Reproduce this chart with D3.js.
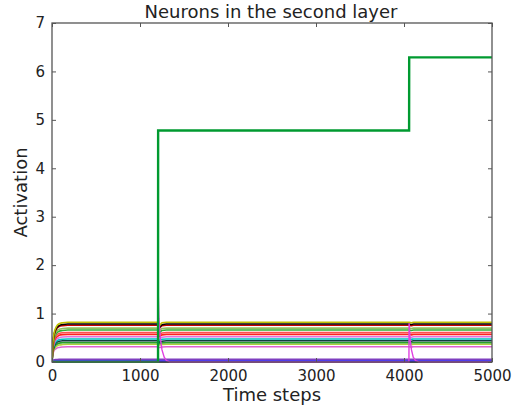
<!DOCTYPE html>
<html><head><meta charset="utf-8">
<script src="https://cdn.jsdelivr.net/npm/d3@7"></script>
<style>body{margin:0;background:#fff}svg{display:block}text{font-family:"DejaVu Sans",sans-serif;fill:#222}</style>
</head><body><svg id="c" width="517" height="409"></svg>
<script>
const title = "Neurons in the second layer";
const xLabel = "Time steps";
const yLabel = "Activation";
const xTicks = [0, 1000, 2000, 3000, 4000, 5000];
const yTicks = [0, 1, 2, 3, 4, 5, 6, 7];
// shared time samples
const times = [0, 10, 25, 50, 80, 120, 180, 260, 1200, 1206, 1220, 1250, 1300, 4055, 4062, 4080, 4110, 4150, 5000];
// steady neurons: color and activation at each time sample
const neuronColors = ["#000000","#0000ff","#7f3fbf","#e060d0","#b0d040","#2ca02c","#104040","#00c0c0","#e070e0","#ff2020","#ff5050","#30b030","#90c060","#cc0000","#000000","#c0c000"];
const neuronValues = [
 [0,0,0,0,0,0,0,0,0,0,0,0,0,0,0,0,0,0,0],
 [0,0.01,0.02,0.02,0.02,0.02,0.02,0.02,0.02,0.02,0.02,0.02,0.02,0.02,0.02,0.02,0.02,0.02,0.02],
 [0,0.03,0.045,0.05,0.055,0.055,0.055,0.055,0.055,0.055,0.055,0.055,0.055,0.055,0.055,0.055,0.055,0.055,0.055],
 [0,0.16,0.24,0.28,0.30,0.31,0.315,0.315,0.315,0.315,0.30,0.31,0.315,0.315,0.315,0.31,0.315,0.315,0.315],
 [0,0.18,0.27,0.32,0.35,0.36,0.365,0.365,0.365,0.365,0.35,0.36,0.365,0.365,0.365,0.36,0.365,0.365,0.365],
 [0,0.2,0.3,0.36,0.39,0.40,0.40,0.40,0.40,0.40,0.38,0.395,0.40,0.40,0.40,0.395,0.40,0.40,0.40],
 [0,0.22,0.33,0.40,0.43,0.44,0.44,0.44,0.44,0.44,0.41,0.43,0.44,0.44,0.44,0.43,0.44,0.44,0.44],
 [0,0.24,0.36,0.43,0.46,0.47,0.475,0.475,0.475,0.475,0.45,0.47,0.475,0.475,0.475,0.47,0.475,0.475,0.475],
 [0,0.26,0.39,0.47,0.50,0.515,0.52,0.52,0.52,0.52,0.49,0.51,0.52,0.52,0.52,0.51,0.52,0.52,0.52],
 [0,0.28,0.42,0.51,0.55,0.565,0.57,0.57,0.57,0.57,0.53,0.56,0.57,0.57,0.57,0.56,0.57,0.57,0.57],
 [0,0.30,0.45,0.55,0.59,0.605,0.61,0.61,0.61,0.61,0.57,0.60,0.61,0.61,0.61,0.60,0.61,0.61,0.61],
 [0,0.32,0.49,0.59,0.635,0.65,0.66,0.66,0.66,0.66,0.61,0.65,0.66,0.66,0.66,0.65,0.66,0.66,0.66],
 [0,0.34,0.52,0.63,0.675,0.69,0.70,0.70,0.70,0.70,0.65,0.69,0.70,0.70,0.70,0.69,0.70,0.70,0.70],
 [0,0.37,0.56,0.68,0.73,0.75,0.76,0.76,0.76,0.76,0.70,0.75,0.76,0.76,0.76,0.75,0.76,0.76,0.76],
 [0,0.38,0.58,0.70,0.75,0.775,0.785,0.785,0.785,0.785,0.72,0.77,0.785,0.785,0.785,0.775,0.785,0.785,0.785],
 [0,0.40,0.60,0.73,0.79,0.81,0.82,0.82,0.82,0.82,0.76,0.81,0.82,0.82,0.82,0.81,0.82,0.82,0.82]
];
// winner neuron (green step)
const winnerTimes = [0, 1205, 1206, 4058, 4059, 5000];
const winnerValues = [0, 0, 4.78, 4.78, 6.29, 6.29];
// transient neuron (magenta spikes and decays)
const transientTimes = [0, 1204, 1206, 1215, 1230, 1250, 1275, 1300, 1340, 4056, 4058, 4068, 4085, 4105, 4130, 4170, 5000];
const transientValues = [0, 0, 1.5, 0.9, 0.5, 0.25, 0.1, 0.03, 0, 0, 0.8, 0.5, 0.25, 0.1, 0.03, 0, 0];

const svg = d3.select("#c");
const m = {l:52, r:492, t:23, b:362};
const x = d3.scaleLinear().domain([0,5000]).range([m.l,m.r]);
const y = d3.scaleLinear().domain([0,7]).range([m.b,m.t]);

const g = svg.append("g");
g.append("clipPath").attr("id","clip").append("rect").attr("x",m.l).attr("y",m.t).attr("width",m.r-m.l).attr("height",m.b-m.t+1);
const plot = g.append("g").attr("clip-path","url(#clip)");
const line = d3.line().x(d=>x(d[0])).y(d=>y(d[1])).curve(d3.curveMonotoneX);

neuronValues.forEach((vals,i)=>{
  plot.append("path").attr("d", line(times.map((t,j)=>[t,vals[j]])))
    .attr("fill","none").attr("stroke",neuronColors[i]).attr("stroke-width",1.6);
});
plot.append("path").attr("d", d3.line().x(d=>x(d[0])).y(d=>y(d[1]))(transientTimes.map((t,j)=>[t,transientValues[j]])))
  .attr("fill","none").attr("stroke","#e040e0").attr("stroke-width",1.4);
plot.append("path").attr("d", d3.line().x(d=>x(d[0])).y(d=>y(d[1]))(winnerTimes.map((t,j)=>[t,winnerValues[j]])))
  .attr("fill","none").attr("stroke","#009a30").attr("stroke-width",2.4);

// frame
g.append("rect").attr("x",m.l).attr("y",m.t).attr("width",m.r-m.l).attr("height",m.b-m.t)
  .attr("fill","none").attr("stroke","#555").attr("stroke-width",1.3);

// axes with inward ticks
const ax = g.append("g").attr("transform",`translate(0,${m.b})`)
  .call(d3.axisBottom(x).tickValues(xTicks).tickSizeInner(-4).tickSizeOuter(0).tickPadding(6).tickFormat(d3.format("d")));
const axT = g.append("g").attr("transform",`translate(0,${m.t})`)
  .call(d3.axisTop(x).tickValues(xTicks).tickSizeInner(-4).tickSizeOuter(0).tickFormat(""));
const ay = g.append("g").attr("transform",`translate(${m.l},0)`)
  .call(d3.axisLeft(y).tickValues(yTicks).tickSizeInner(-4).tickSizeOuter(0).tickPadding(7).tickFormat(d3.format("d")));
const ayR = g.append("g").attr("transform",`translate(${m.r},0)`)
  .call(d3.axisRight(y).tickValues(yTicks).tickSizeInner(-4).tickSizeOuter(0).tickFormat(""));
[ax,axT,ay,ayR].forEach(a=>{a.select(".domain").remove(); a.selectAll("line").attr("stroke","#555");
  a.selectAll("text").attr("font-size",15).attr("font-family","DejaVu Sans").attr("fill","#222");});
ax.selectAll("text").attr("dy","0.85em");

svg.append("text").attr("x",(m.l+m.r)/2-1).attr("y",18).attr("text-anchor","middle").attr("font-size",18).text(title);
svg.append("text").attr("x",(m.l+m.r)/2).attr("y",401).attr("text-anchor","middle").attr("font-size",18).text(xLabel);
svg.append("text").attr("transform",`translate(27,${(m.t+m.b)/2}) rotate(-90)`).attr("text-anchor","middle").attr("font-size",18).text(yLabel);
</script></body></html>
